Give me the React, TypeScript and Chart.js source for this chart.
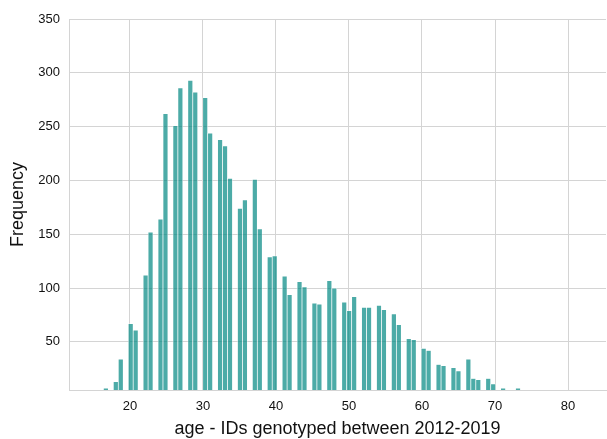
import React, { useEffect, useRef } from "react";
import { Chart, registerables } from "chart.js";

Chart.register(...registerables);

// Histogram bins (age, years)
const binStart = 16.37;
const binWidth = 0.68;
// Frequency per bin (bin 0 .. 83)
const binCounts = [
  7, 0, 13, 34, 0, 67, 61, 0, 112, 152, 0, 164, 262, 0, 251, 286, 0, 293, 282, 0,
  277, 244, 0, 238, 232, 202, 0, 174, 182, 0, 201, 155, 0, 129, 130, 0, 111, 94, 0, 106,
  101, 0, 86, 85, 0, 107, 100, 0, 87, 79, 92, 0, 82, 82, 0, 84, 80, 0, 76, 66,
  0, 53, 52, 0, 44, 42, 0, 29, 28, 0, 26, 23, 0, 34, 16, 15, 0, 16, 11, 0,
  7, 0, 0, 7,
];
const xTicks = [20, 30, 40, 50, 60, 70, 80];
const yTicks = [50, 100, 150, 200, 250, 300, 350];
const xTitle = "age - IDs genotyped between 2012-2019";
const yTitle = "Frequency";

const FONT = "'Liberation Sans', Arial, Helvetica, sans-serif";
const GRID = "#d4d4d4";

export default function App() {
  const ref = useRef<HTMLCanvasElement | null>(null);

  useEffect(() => {
    if (!ref.current) return;
    const points = binCounts
      .map((c, i) => ({ x: binStart + (i + 0.5) * binWidth, y: c }))
      .filter((p) => p.y > 0);

    const chart = new Chart(ref.current, {
      type: "bar",
      data: {
        datasets: [
          {
            data: points,
            backgroundColor: "rgba(0,135,130,0.7)",
            borderColor: "rgba(255,255,255,0.55)",
            borderWidth: 0.7,
            barPercentage: 1,
            categoryPercentage: 1,
          },
        ],
      },
      options: {
        animation: false,
        responsive: false,
        maintainAspectRatio: false,
        layout: { padding: { top: 19, right: 1, left: 0, bottom: 0 } },
        plugins: { legend: { display: false }, tooltip: { enabled: false } },
        scales: {
          x: {
            type: "linear",
            min: 11.66,
            max: 85.2,
            offset: false,
            grid: { color: GRID, lineWidth: 1, drawTicks: false, offset: false },
            border: { display: true, color: GRID, width: 1 },
            afterBuildTicks: (s: any) => {
              s.ticks = xTicks.map((v) => ({ value: v }));
            },
            afterFit: (s: any) => {
              s.height = 49;
            },
            ticks: {
              padding: 9,
              maxRotation: 0,
              autoSkip: false,
              color: "#111",
              font: { family: FONT, size: 13 },
            },
            title: {
              display: true,
              text: xTitle,
              color: "#111",
              font: { family: FONT, size: 18 },
              padding: { top: 0, bottom: -1 },
            },
          },
          y: {
            type: "linear",
            min: 5.3,
            max: 350,
            grid: { color: GRID, lineWidth: 1, drawTicks: false },
            border: { display: true, color: GRID, width: 1 },
            afterBuildTicks: (s: any) => {
              s.ticks = yTicks.map((v) => ({ value: v }));
            },
            afterFit: (s: any) => {
              s.width = 69;
            },
            ticks: {
              padding: 9,
              color: "#111",
              font: { family: FONT, size: 13 },
            },
            title: {
              display: true,
              text: yTitle,
              color: "#111",
              font: { family: FONT, size: 18 },
              padding: { top: 7, bottom: 0 },
            },
          },
        },
      },
    });
    return () => chart.destroy();
  }, []);

  return (
    <div style={{ position: "fixed", left: 0, top: 0, width: 607, height: 439, background: "#fff" }}>
      <canvas ref={ref} width={607} height={439} style={{ width: 607, height: 439, display: "block" }} />
    </div>
  );
}
